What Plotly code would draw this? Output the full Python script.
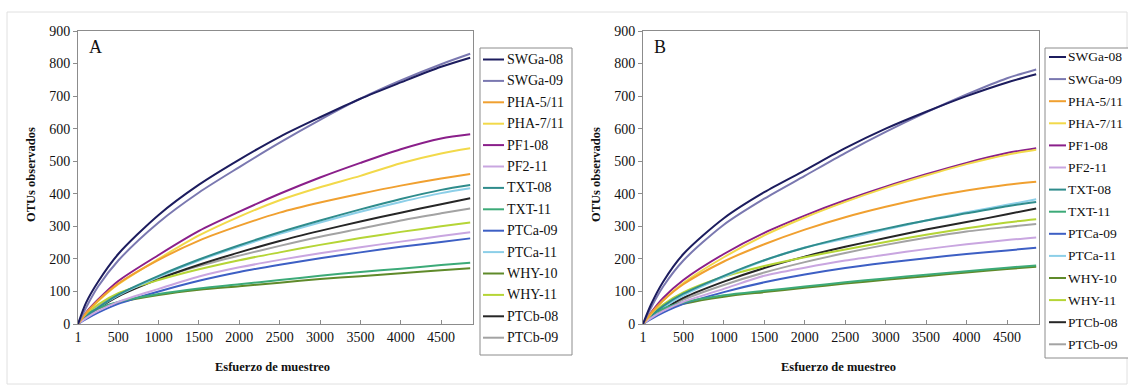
import plotly.graph_objects as go

# Sampling effort (x) at which values were read
esfuerzo = [1, 100, 250, 500, 1000, 1500, 2000, 2500, 3000, 3500, 4000, 4500, 4860]

series_names = ["SWGa-08", "SWGa-09", "PHA-5/11", "PHA-7/11", "PF1-08", "PF2-11", "TXT-08",
                "TXT-11", "PTCa-09", "PTCa-11", "WHY-10", "WHY-11", "PTCb-08", "PTCb-09"]

series_colors = ["#1c1c5e", "#7a78b0", "#f0a030", "#f2d94a", "#8a1f8a", "#c9a6e0", "#2f8c8c",
                 "#3caa78", "#3d5fc4", "#8ccfe8", "#5f8a2a", "#b5d536", "#262626", "#a3a3a3"]

# Panel A values (OTUs observados)
A_SWGa_08 = [0, 65, 130, 215, 335, 428, 505, 575, 635, 692, 742, 790, 818]
A_SWGa_09 = [0, 50, 115, 195, 312, 404, 482, 557, 627, 692, 748, 798, 830]
A_PHA_5_11 = [0, 33, 72, 124, 197, 256, 302, 342, 373, 400, 425, 447, 461]
A_PHA_7_11 = [0, 32, 70, 122, 200, 272, 330, 380, 420, 455, 494, 524, 540]
A_PF1_08 = [0, 35, 75, 132, 212, 286, 345, 400, 450, 495, 537, 570, 583]
A_PF2_11 = [0, 18, 40, 68, 108, 146, 174, 197, 217, 236, 253, 270, 282]
A_TXT_08 = [0, 22, 50, 90, 148, 198, 242, 282, 318, 352, 384, 412, 427]
A_TXT_11 = [0, 27, 48, 68, 92, 109, 122, 135, 148, 160, 170, 181, 188]
A_PTCa_09 = [0, 15, 35, 62, 100, 133, 160, 182, 202, 220, 237, 252, 263]
A_PTCa_11 = [0, 22, 50, 88, 145, 195, 238, 277, 312, 345, 375, 402, 417]
A_WHY_10 = [0, 27, 47, 66, 89, 105, 116, 127, 138, 147, 156, 165, 171]
A_WHY_11 = [0, 30, 60, 95, 135, 168, 196, 220, 243, 264, 283, 300, 312]
A_PTCb_08 = [0, 22, 48, 85, 138, 182, 220, 255, 286, 315, 342, 368, 386]
A_PTCb_09 = [0, 25, 55, 92, 140, 178, 210, 240, 268, 293, 318, 340, 355]

# Panel B values (OTUs observados)
B_SWGa_08 = [0, 60, 130, 215, 325, 405, 472, 540, 600, 652, 700, 742, 767]
B_SWGa_09 = [0, 50, 115, 195, 305, 385, 455, 525, 590, 650, 705, 755, 782]
B_PHA_5_11 = [0, 33, 72, 122, 192, 245, 290, 328, 360, 388, 410, 428, 437]
B_PHA_7_11 = [0, 30, 72, 126, 205, 272, 327, 375, 418, 456, 491, 520, 535]
B_PF1_08 = [0, 35, 80, 135, 215, 280, 333, 380, 422, 460, 495, 525, 540]
B_PF2_11 = [0, 18, 40, 68, 108, 148, 173, 195, 213, 230, 245, 258, 266]
B_TXT_08 = [0, 25, 55, 93, 148, 196, 234, 266, 293, 318, 340, 362, 375]
B_TXT_11 = [0, 25, 47, 66, 88, 102, 115, 128, 140, 151, 162, 173, 180]
B_PTCa_09 = [0, 15, 35, 62, 98, 128, 152, 172, 188, 202, 215, 226, 234]
B_PTCa_11 = [0, 22, 50, 88, 145, 195, 235, 262, 290, 318, 343, 366, 383]
B_WHY_10 = [0, 24, 44, 62, 84, 98, 111, 124, 136, 147, 158, 169, 176]
B_WHY_11 = [0, 28, 60, 97, 145, 178, 205, 229, 252, 274, 294, 312, 322]
B_PTCb_08 = [0, 20, 45, 80, 130, 172, 207, 237, 264, 290, 313, 337, 355]
B_PTCb_09 = [0, 18, 42, 75, 120, 158, 190, 218, 243, 265, 284, 298, 307]

panel_A = [A_SWGa_08, A_SWGa_09, A_PHA_5_11, A_PHA_7_11, A_PF1_08, A_PF2_11, A_TXT_08,
           A_TXT_11, A_PTCa_09, A_PTCa_11, A_WHY_10, A_WHY_11, A_PTCb_08, A_PTCb_09]
panel_B = [B_SWGa_08, B_SWGa_09, B_PHA_5_11, B_PHA_7_11, B_PF1_08, B_PF2_11, B_TXT_08,
           B_TXT_11, B_PTCa_09, B_PTCa_11, B_WHY_10, B_WHY_11, B_PTCb_08, B_PTCb_09]

x_tickvals = [1, 500, 1000, 1500, 2000, 2500, 3000, 3500, 4000, 4500]
x_ticktext = ["1", "500", "1000", "1500", "2000", "2500", "3000", "3500", "4000", "4500"]

FONT = "Liberation Serif, Times New Roman, serif"
W, H = 1128, 385

fig = go.Figure()

# draw in reverse so the first series sits on top
for i in reversed(range(len(series_names))):
    fig.add_trace(go.Scatter(x=esfuerzo, y=panel_A[i], name=series_names[i], mode="lines",
                             line=dict(color=series_colors[i], width=2, shape="spline", smoothing=0.8),
                             xaxis="x", yaxis="y", showlegend=False))
for i in reversed(range(len(series_names))):
    fig.add_trace(go.Scatter(x=esfuerzo, y=panel_B[i], name=series_names[i], mode="lines",
                             line=dict(color=series_colors[i], width=2, shape="spline", smoothing=0.8),
                             xaxis="x2", yaxis="y2", showlegend=False))

def px_x(p):
    return p / W

def px_y(p):
    return 1 - p / H

axis_common = dict(showline=True, linecolor="#8c8c8c", linewidth=1, mirror=True,
                   showgrid=False, zeroline=False, tickfont=dict(family=FONT, size=14, color="#111"),
                   ticklen=4, tickcolor="#8c8c8c")

x_dom_A = [px_x(78), px_x(473)]
x_dom_B = [px_x(643), px_x(1039)]
y_dom = [px_y(324), px_y(31)]

fig.update_layout(
    width=W, height=H,
    margin=dict(l=0, r=0, t=0, b=0, autoexpand=False),
    paper_bgcolor="white", plot_bgcolor="white",
    font=dict(family=FONT, size=14, color="#111"),
    xaxis=dict(domain=x_dom_A, range=[1, 4895], tickvals=x_tickvals, ticktext=x_ticktext,
               ticks="inside", anchor="y", **axis_common),
    yaxis=dict(domain=y_dom, range=[0, 900], dtick=100, ticks="outside", anchor="x", **axis_common),
    xaxis2=dict(domain=x_dom_B, range=[1, 4895], tickvals=x_tickvals, ticktext=x_ticktext,
                ticks="inside", anchor="y2", **axis_common),
    yaxis2=dict(domain=y_dom, range=[0, 900], dtick=100, ticks="outside", anchor="x2", **axis_common),
    showlegend=False,
)

annotations = [
    dict(text="A", x=px_x(87), y=px_y(47), xref="paper", yref="paper", xanchor="left", yanchor="middle",
         showarrow=False, font=dict(family=FONT, size=18, color="#111")),
    dict(text="B", x=px_x(652), y=px_y(47), xref="paper", yref="paper", xanchor="left", yanchor="middle",
         showarrow=False, font=dict(family=FONT, size=18, color="#111")),
    dict(text="<b>Esfuerzo de muestreo</b>", x=px_x(272), y=px_y(367), xref="paper", yref="paper",
         xanchor="center", yanchor="middle", showarrow=False, font=dict(family=FONT, size=12.5, color="#111")),
    dict(text="<b>Esfuerzo de muestreo</b>", x=px_x(838), y=px_y(367), xref="paper", yref="paper",
         xanchor="center", yanchor="middle", showarrow=False, font=dict(family=FONT, size=12.5, color="#111")),
    dict(text="<b>OTUs observados</b>", x=px_x(31), y=px_y(175), xref="paper", yref="paper",
         xanchor="center", yanchor="middle", textangle=-90, showarrow=False,
         font=dict(family=FONT, size=12.5, color="#111")),
    dict(text="<b>OTUs observados</b>", x=px_x(596), y=px_y(175), xref="paper", yref="paper",
         xanchor="center", yanchor="middle", textangle=-90, showarrow=False,
         font=dict(family=FONT, size=12.5, color="#111")),
]

shapes = [dict(type="rect", xref="paper", yref="paper", x0=px_x(7), x1=px_x(1127),
               y0=px_y(384), y1=px_y(12), line=dict(color="#e0e0e0", width=1),
               fillcolor="rgba(0,0,0,0)", layer="below")]

# Legend boxes (drawn from the series names / colours)
legend_specs = [
    dict(box=(480, 48, 572, 355), line_x=(483, 504), text_x=505, y0=59.5, step=21.4, fs=14),
    dict(box=(1045, 48, 1140, 358), line_x=(1049, 1066), text_x=1066, y0=57, step=22.1, fs=13.5),
]
for spec in legend_specs:
    bx0, by0, bx1, by1 = spec["box"]
    shapes.append(dict(type="rect", xref="paper", yref="paper", x0=px_x(bx0), x1=px_x(bx1),
                       y0=px_y(by1), y1=px_y(by0), line=dict(color="#8c8c8c", width=1),
                       fillcolor="white", layer="above"))
    for i, (name, col) in enumerate(zip(series_names, series_colors)):
        yy = spec["y0"] + i * spec["step"]
        shapes.append(dict(type="line", xref="paper", yref="paper", x0=px_x(spec["line_x"][0]),
                           x1=px_x(spec["line_x"][1]), y0=px_y(yy), y1=px_y(yy),
                           line=dict(color=col, width=2), layer="above"))
        annotations.append(dict(text=name, x=px_x(spec["text_x"]), y=px_y(yy), xref="paper", yref="paper",
                                xanchor="left", yanchor="middle", showarrow=False,
                                font=dict(family=FONT, size=spec["fs"], color="#111")))

fig.update_layout(annotations=annotations, shapes=shapes)

fig.write_html("out.html")
